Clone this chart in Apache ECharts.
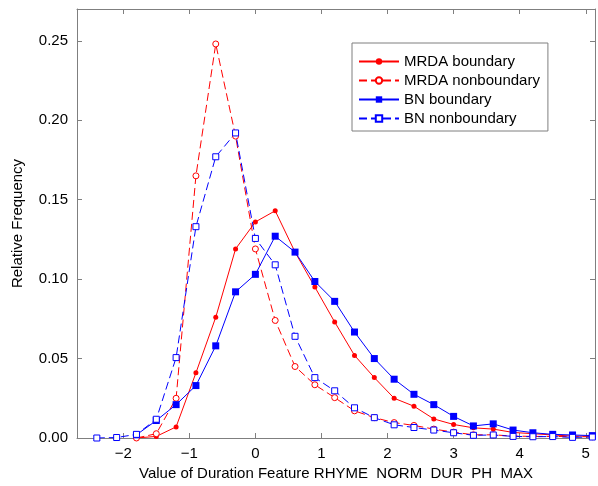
<!DOCTYPE html>
<html>
<head>
<meta charset="utf-8">
<script src="https://cdn.jsdelivr.net/npm/echarts@6/dist/echarts.min.js"></script>
<style>
  html, body { margin: 0; padding: 0; background: #fff; }
  #chart_example { width: 598px; height: 486px; }
</style>
</head>
<body>
<div id="chart_example"></div>
<script>
// x positions of the histogram bins
var xBins = [-2.4, -2.1, -1.8, -1.5, -1.2, -0.9, -0.6, -0.3, 0, 0.3, 0.6, 0.9, 1.2,
             1.5, 1.8, 2.1, 2.4, 2.7, 3.0, 3.3, 3.6, 3.9, 4.2, 4.5, 4.8, 5.1];

// null = no point drawn in that bin
var mrdaBoundary = [null, null, 0.000, 0.001, 0.007, 0.041, 0.076, 0.119, 0.136, 0.143, 0.117, 0.095, 0.073,
                    0.052, 0.038, 0.025, 0.020, 0.012, 0.0085, 0.0064, 0.0056, 0.0035, 0.0027, 0.0019, 0.0012, 0.0012];
var mrdaNonBoundary = [null, null, 0.000, 0.0027, 0.025, 0.165, 0.248, 0.190, 0.119, 0.074, 0.045, 0.0335, 0.0254,
                       0.0171, 0.0128, 0.0097, 0.0079, 0.0056, 0.0037, 0.002, 0.002, 0.0012, 0.001, 0.001, 0.0008, 0.0008];
var bnBoundary = [null, null, 0.002, 0.011, 0.021, 0.033, 0.058, 0.092, 0.103, 0.127, 0.117, 0.0985, 0.086,
                  0.0667, 0.050, 0.037, 0.0275, 0.021, 0.0136, 0.0076, 0.0089, 0.005, 0.0033, 0.0023, 0.0019, 0.0015];
var bnNonBoundary = [0.000, 0.0003, 0.0023, 0.0118, 0.0506, 0.133, 0.177, 0.192, 0.1256, 0.109, 0.064, 0.038, 0.0297,
                     0.019, 0.0128, 0.0083, 0.0066, 0.005, 0.0033, 0.0017, 0.0019, 0.001, 0.0008, 0.0009, 0.0004, 0.0006];

var seriesNames = ['MRDA boundary', 'MRDA nonboundary', 'BN boundary', 'BN nonboundary'];

function pairs(ys) {
  var out = [];
  for (var i = 0; i < xBins.length; i++) {
    if (ys[i] !== null) out.push([xBins[i], ys[i]]);
  }
  return out;
}

function xLabel(v) {
  if (Math.abs(v - Math.round(v)) > 1e-6) return '';
  return v < 0 ? '\u2212' + Math.abs(v) : String(v);
}
function yLabel(v) {
  if (Math.abs(v * 20 - Math.round(v * 20)) > 1e-6) return '';
  return v.toFixed(2);
}

var FONT = 'Liberation Sans';
var frame = { onZero: false, lineStyle: { color: '#7f7f7f', width: 1 } };
var ticksIn = { show: true, inside: true, length: 5, lineStyle: { color: '#7f7f7f' } };

var option1 = {
  backgroundColor: '#fff',
  animation: false,
  textStyle: { fontFamily: FONT },
  grid: { left: 77, right: 1, top: 9, bottom: 41 },
  legend: {
    orient: 'vertical',
    left: 352,
    top: 43,
    padding: [11, 8, 5, 6],
    itemGap: 4,
    itemWidth: 40,
    itemHeight: 8,
    borderColor: '#7f7f7f',
    borderWidth: 1,
    backgroundColor: '#fff',
    textStyle: { fontFamily: FONT, fontSize: 15, color: '#000' },
    data: seriesNames
  },
  xAxis: [
    {
      type: 'value', min: -2.7, max: 5.14, minInterval: 1, maxInterval: 1,
      axisLine: frame, axisTick: ticksIn, splitLine: { show: false },
      axisLabel: { formatter: xLabel, fontSize: 15, color: '#000', margin: 8 },
      name: 'Value of Duration Feature RHYME  NORM  DUR  PH  MAX',
      nameLocation: 'middle', nameGap: 28,
      nameTextStyle: { fontSize: 15, color: '#000', fontFamily: FONT }
    },
    {
      type: 'value', position: 'top', min: -2.7, max: 5.14, minInterval: 1, maxInterval: 1,
      axisLine: frame, axisTick: ticksIn, axisLabel: { show: false }, splitLine: { show: false }
    }
  ],
  yAxis: [
    {
      type: 'value', min: 0, max: 0.27, interval: 0.05,
      axisLine: frame, axisTick: ticksIn, splitLine: { show: false },
      axisLabel: { formatter: yLabel, fontSize: 15, color: '#000', margin: 9 },
      name: 'Relative Frequency', nameLocation: 'middle', nameGap: 52,
      nameTextStyle: { fontSize: 15, color: '#000', fontFamily: FONT }
    },
    {
      type: 'value', position: 'right', min: 0, max: 0.27, interval: 0.05,
      axisLine: frame, axisTick: ticksIn, axisLabel: { show: false }, splitLine: { show: false }
    }
  ],
  series: [
    {
      name: seriesNames[0], type: 'line', data: pairs(mrdaBoundary),
      symbol: 'circle', symbolSize: 5, showAllSymbol: true,
      lineStyle: { color: '#ff0000', width: 1 },
      itemStyle: { color: '#ff0000' }
    },
    {
      name: seriesNames[1], type: 'line', data: pairs(mrdaNonBoundary),
      symbol: 'circle', symbolSize: 6, showAllSymbol: true,
      lineStyle: { color: '#ff0000', width: 1, type: [8, 4] },
      itemStyle: { color: '#ffffff', borderColor: '#ff0000', borderWidth: 1 }
    },
    {
      name: seriesNames[2], type: 'line', data: pairs(bnBoundary),
      symbol: 'rect', symbolSize: 7, showAllSymbol: true,
      lineStyle: { color: '#0000ff', width: 1 },
      itemStyle: { color: '#0000ff' }
    },
    {
      name: seriesNames[3], type: 'line', data: pairs(bnNonBoundary),
      symbol: 'rect', symbolSize: 6, showAllSymbol: true,
      lineStyle: { color: '#0000ff', width: 1, type: [8, 4] },
      itemStyle: { color: '#ffffff', borderColor: '#0000ff', borderWidth: 1 }
    }
  ]
};

var myChart = echarts.init(document.getElementById('chart_example'));
myChart.setOption(option1);
window.addEventListener('resize', function () { myChart.resize(); });
</script>
</body>
</html>
